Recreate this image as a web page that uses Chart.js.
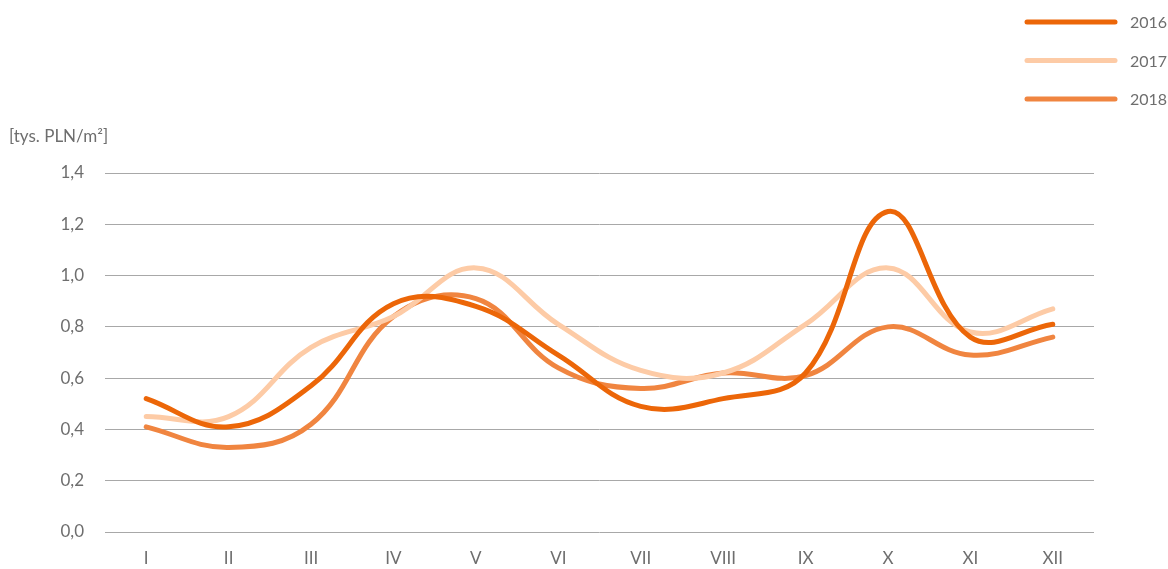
<!DOCTYPE html>
<html>
<head>
<meta charset="utf-8">
<script src="https://cdn.jsdelivr.net/npm/chart.js@4"></script>
<style>
  html, body { margin: 0; padding: 0; background: #fff; }
  #wrap { width: 1168px; height: 569px; position: relative; }
</style>
</head>
<body>
<div id="wrap"><canvas id="price_chart"></canvas></div>
<script>
const months = ['I', 'II', 'III', 'IV', 'V', 'VI', 'VII', 'VIII', 'IX', 'X', 'XI', 'XII'];
const years = ['2016', '2017', '2018'];
const values_2016 = [0.52, 0.41, 0.57, 0.89, 0.88, 0.69, 0.49, 0.52, 0.62, 1.25, 0.76, 0.81];
const values_2017 = [0.45, 0.45, 0.72, 0.84, 1.03, 0.81, 0.63, 0.62, 0.81, 1.03, 0.78, 0.87];
const values_2018 = [0.41, 0.33, 0.42, 0.84, 0.91, 0.64, 0.56, 0.62, 0.61, 0.80, 0.69, 0.76];
const colors = ['#ec6608', '#fdcba6', '#f08540'];
const axis_title = '[tys. PLN/m²]';

const font_family = 'Lato, "Open Sans", sans-serif';
const text_color = '#6e6e6e';

// y axis title and vertical legend, drawn by hand
const extras = {
    id: 'extras',
    afterDraw(chart) {
        const ctx = chart.ctx;
        ctx.save();
        ctx.fillStyle = text_color;
        ctx.font = '17px ' + font_family;
        ctx.textBaseline = 'middle';
        ctx.textAlign = 'left';
        ctx.fillText(axis_title, 9, 137);

        chart.data.datasets.forEach((ds, i) => {
            const y = 22 + i * 38.5;
            ctx.strokeStyle = ds.borderColor;
            ctx.lineWidth = 5;
            ctx.lineCap = 'round';
            ctx.beginPath();
            ctx.moveTo(1027, y);
            ctx.lineTo(1115, y);
            ctx.stroke();
            ctx.fillStyle = text_color;
            ctx.font = '16px ' + font_family;
            ctx.fillText(ds.label, 1130, y + 1);
        });
        ctx.restore();
    }
};

const ctx = document.getElementById('price_chart');
const myChart = new Chart(ctx, {
    type: 'line',
    data: {
        labels: months,
        datasets: [
            { label: years[0], data: values_2016, borderColor: colors[0] },
            { label: years[1], data: values_2017, borderColor: colors[1] },
            { label: years[2], data: values_2018, borderColor: colors[2] }
        ].map(ds => Object.assign(ds, {
            borderWidth: 5,
            tension: 0.4,
            pointRadius: 0,
            borderCapStyle: 'round',
            fill: false
        }))
    },
    options: {
        responsive: true,
        maintainAspectRatio: false,
        animation: false,
        layout: { padding: { left: 0, right: 74, top: 173, bottom: 0 } },
        plugins: {
            legend: { display: false },
            tooltip: { enabled: false }
        },
        scales: {
            x: {
                offset: true,
                grid: { display: false, drawTicks: false },
                border: { display: false },
                ticks: {
                    color: text_color,
                    font: { family: font_family, size: 17 },
                    padding: 16
                },
                afterFit: s => { s.height = 37; }
            },
            y: {
                min: 0,
                max: 1.4,
                grid: { color: '#a8a8a8', lineWidth: 1, drawTicks: false },
                border: { display: false },
                ticks: {
                    stepSize: 0.2,
                    color: text_color,
                    font: { family: font_family, size: 17 },
                    padding: 21,
                    callback: v => v.toFixed(1).replace('.', ',')
                },
                afterFit: s => { s.width = 105; }
            }
        }
    },
    plugins: [extras]
});
</script>
</body>
</html>
